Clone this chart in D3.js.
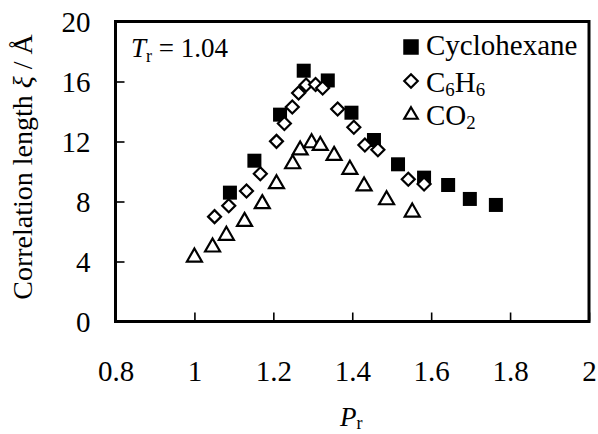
<!DOCTYPE html>
<html><head><meta charset="utf-8">
<script src="https://cdn.jsdelivr.net/npm/d3@7"></script>
<style>
html,body{margin:0;padding:0;background:#fff;}
svg{display:block;}
</style></head>
<body>
<script>
// Data
const xTicks = [0.8, 1, 1.2, 1.4, 1.6, 1.8, 2];
const yTicks = [0, 4, 8, 12, 16, 20];

const cyclohexaneP  = [1.090, 1.152, 1.217, 1.277, 1.338, 1.398, 1.455, 1.516, 1.582, 1.643, 1.698, 1.764];
const cyclohexaneXi = [8.59, 10.72, 13.79, 16.72, 16.07, 13.92, 12.10, 10.48, 9.59, 9.10, 8.17, 7.77];

const benzeneP  = [1.051, 1.087, 1.132, 1.167, 1.208, 1.228, 1.248, 1.264, 1.283, 1.307, 1.325, 1.363, 1.404, 1.432, 1.465, 1.542, 1.582];
const benzeneXi = [6.99, 7.72, 8.70, 9.85, 12.01, 13.20, 14.30, 15.23, 15.77, 15.80, 15.57, 14.17, 12.95, 11.77, 11.45, 9.48, 9.17];

const co2P  = [1.000, 1.046, 1.081, 1.127, 1.172, 1.208, 1.249, 1.268, 1.297, 1.319, 1.354, 1.394, 1.430, 1.487, 1.552];
const co2Xi = [4.43, 5.10, 5.88, 6.81, 7.99, 9.32, 10.65, 11.57, 12.05, 11.87, 11.21, 10.28, 9.17, 8.25, 7.43];

const FONT = "Liberation Serif";
const W = 598, H = 434;
const m = {left:115.5, right:9, top:21.5, bottom:112.5};

const svg = d3.select("body").append("svg").attr("width", W).attr("height", H)
  .style("font-family", FONT);

const x = d3.scaleLinear().domain([0.8, 2]).range([m.left, W - m.right]);
const y = d3.scaleLinear().domain([0, 20]).range([H - m.bottom, m.top]);

const fs = 29;

// Axes (ticks inside)
const xAxis = d3.axisBottom(x).tickValues(xTicks).tickSize(-9).tickPadding(0).tickFormat(d3.format("~g"));
const yAxis = d3.axisLeft(y).tickValues(yTicks).tickSize(-9).tickPadding(0).tickFormat(d3.format("~g"));

const gx = svg.append("g").attr("transform", `translate(0,${y(0)})`).call(xAxis)
  .attr("font-family", null).attr("font-size", null);
gx.select(".domain").remove();
gx.selectAll(".tick line").attr("stroke", "#000").attr("stroke-width", 1.6);
gx.selectAll(".tick text").attr("font-family", FONT).style("font-family", FONT).style("font-size", fs + "px")
  .attr("fill", "#000").attr("dy", null).attr("y", 59.5);

const gy = svg.append("g").attr("transform", `translate(${x(0.8)},0)`).call(yAxis)
  .attr("font-family", null).attr("font-size", null);
gy.select(".domain").remove();
gy.selectAll(".tick line").attr("stroke", "#000").attr("stroke-width", 1.6);
gy.selectAll(".tick text").attr("font-family", FONT).style("font-family", FONT).style("font-size", fs + "px")
  .attr("fill", "#000").attr("x", -25).attr("dy", "0.35em");

// Frame
svg.append("rect").attr("x", x(0.8)).attr("y", y(20))
  .attr("width", x(2) - x(0.8)).attr("height", y(0) - y(20))
  .attr("fill", "none").attr("stroke", "#000").attr("stroke-width", 3);

// Markers
const sq = 14, dia = 15, triW = 17, triH = 15;
function square(g, cx, cy, s) {
  g.append("rect").attr("x", cx - s/2).attr("y", cy - s/2).attr("width", s).attr("height", s).attr("fill", "#000");
}
function diamond(g, cx, cy, s) {
  const h = s/2 - 1;
  g.append("path").attr("d", `M${cx},${cy-h}L${cx+h},${cy}L${cx},${cy+h}L${cx-h},${cy}Z`)
    .attr("fill", "#fff").attr("stroke", "#000").attr("stroke-width", 2.2);
}
function triangle(g, cx, cy, w, h) {
  const hw = w/2 - 1, hh = h/2 - 1;
  g.append("path").attr("d", `M${cx},${cy-hh}L${cx+hw},${cy+hh}L${cx-hw},${cy+hh}Z`)
    .attr("fill", "#fff").attr("stroke", "#000").attr("stroke-width", 2.2).attr("stroke-linejoin", "miter");
}

const gT = svg.append("g");
co2P.forEach((p, i) => triangle(gT, x(p), y(co2Xi[i]), triW, triH));
const gS = svg.append("g");
cyclohexaneP.forEach((p, i) => square(gS, x(p), y(cyclohexaneXi[i]), sq));
const gD = svg.append("g");
benzeneP.forEach((p, i) => diamond(gD, x(p), y(benzeneXi[i]), dia));

// Legend
const lg = svg.append("g");
square(lg, 411, 47, 15.5);
diamond(lg, 411, 81, 15.5);
triangle(lg, 411, 113, 15.5, 13.5);
const lfs = 29;
function txt(g, xx, yy, size) {
  return g.append("text").attr("x", xx).attr("y", yy).attr("font-family", FONT)
    .style("font-family", FONT).style("font-size", size + "px").attr("fill", "#000");
}
txt(lg, 426, 55, lfs).text("Cyclohexane");
const t2 = txt(lg, 426, 91.5, lfs);
t2.append("tspan").text("C");
t2.append("tspan").style("font-size", (lfs*0.65) + "px").attr("dy", 4).text("6");
t2.append("tspan").attr("dy", -4).text("H");
t2.append("tspan").style("font-size", (lfs*0.65) + "px").attr("dy", 4).text("6");
const t3 = txt(lg, 426, 125, lfs);
t3.append("tspan").text("CO");
t3.append("tspan").style("font-size", (lfs*0.65) + "px").attr("dy", 4).text("2");

// Annotation T_r = 1.04
const ta = txt(svg, 131, 56.5, 27);
ta.append("tspan").style("font-style", "italic").text("T");
ta.append("tspan").style("font-size", "18px").attr("dy", 5).text("r");
ta.append("tspan").attr("dy", -5).text(" = 1.04");

// X axis title
const xt = txt(svg, 340, 426, 27);
xt.append("tspan").style("font-style", "italic").text("P");
xt.append("tspan").style("font-size", "18px").attr("dy", 3).text("r");

// Y axis title
const yt = svg.append("text").attr("transform", "translate(32,167) rotate(-90)")
  .attr("text-anchor", "middle").attr("font-family", FONT).style("font-family", FONT)
  .style("font-size", "28px").attr("fill", "#000");
yt.append("tspan").text("Correlation length  ");
yt.append("tspan").style("font-style", "italic").text("ξ");
yt.append("tspan").text(" / Å");
</script>
</body></html>
